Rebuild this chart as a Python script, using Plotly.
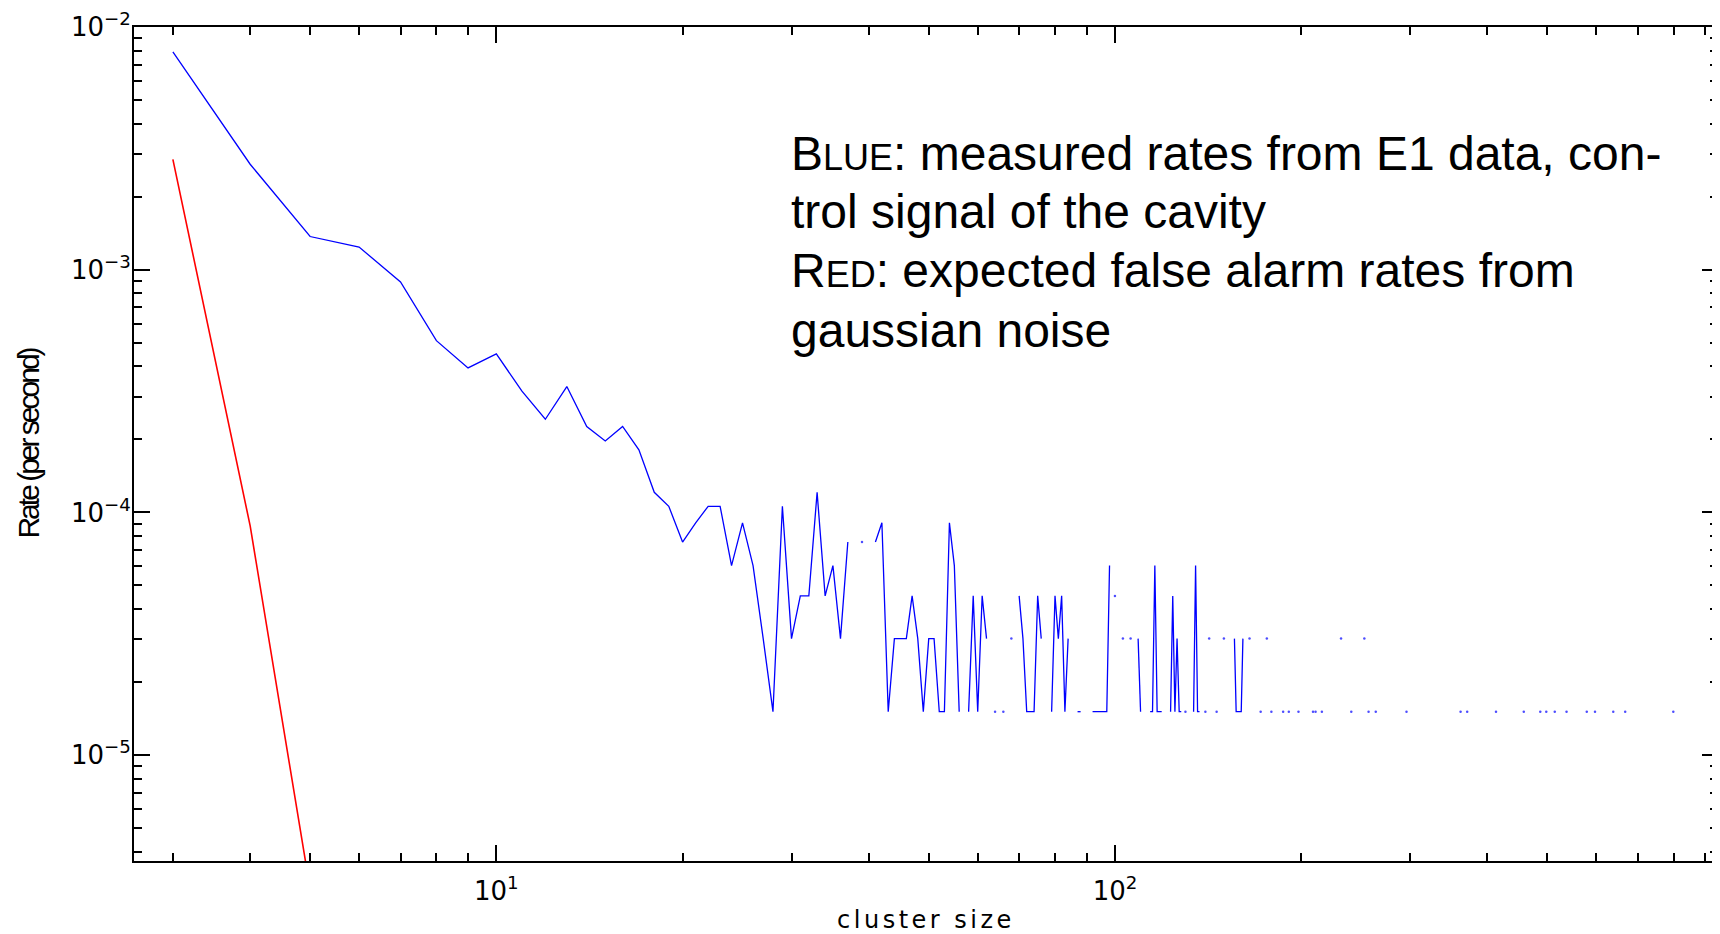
import plotly.graph_objects as go

# ---------------- data ----------------
blue_size = [3, 4, 5, 6, 7, 8, 9, 10, 11, 12, 13, 14, 15, 16, 17, 18, 19, 20,
             21, 22, 23, 24, 25, 26, 27, 28, 29, 30, 31, 32, 33, 34, 35, 36, 37,
             39, 41, 42, 43, 44, 45, 46, 47, 48, 49, 50, 51, 52, 53, 54, 55, 56,
             58, 59, 60, 61, 62, 64, 66, 68, 70, 71, 72, 73, 74, 75, 76,
             79, 80, 81, 82, 83, 84, 87, 88, 92, 93, 94, 95, 96, 97, 98,
             100, 103, 106, 109, 110, 114, 115, 116, 117, 118, 119,
             123, 124, 125, 126, 127, 128, 130, 134, 135, 136, 137, 140, 142,
             146, 150, 156, 157, 158, 159, 160, 161, 165, 172, 176, 179, 187,
             191, 198, 209, 211, 216, 232, 241, 253, 257, 264, 296, 362, 371,
             413, 458, 487, 498, 514, 537, 579, 597, 639, 668, 799]
blue_rate = [7.9e-3, 2.72e-3, 1.37e-3, 1.24e-3, 8.9e-4, 5.1e-4, 3.94e-4, 4.5e-4,
             3.16e-4, 2.42e-4, 3.3e-4, 2.26e-4, 1.97e-4, 2.26e-4, 1.81e-4,
             1.21e-4, 1.06e-4, 7.55e-5,
             9.06e-5, 1.06e-4, 1.06e-4, 6.04e-5, 9.06e-5, 6.04e-5, 3.02e-5,
             1.51e-5, 1.06e-4, 3.02e-5, 4.53e-5, 4.53e-5, 1.21e-4, 4.53e-5,
             6.04e-5, 3.02e-5, 7.55e-5,
             7.55e-5, 7.55e-5, 9.06e-5, 1.51e-5, 3.02e-5, 3.02e-5, 3.02e-5,
             4.53e-5, 3.02e-5, 1.51e-5, 3.02e-5, 3.02e-5, 1.51e-5, 1.51e-5,
             9.06e-5, 6.04e-5, 1.51e-5,
             1.51e-5, 4.53e-5, 1.51e-5, 4.53e-5, 3.02e-5, 1.51e-5, 1.51e-5,
             3.02e-5, 4.53e-5, 3.02e-5, 1.51e-5, 1.51e-5, 1.51e-5, 4.53e-5, 3.02e-5,
             1.51e-5, 4.53e-5, 3.02e-5, 4.53e-5, 1.51e-5, 3.02e-5, 1.51e-5, 1.51e-5,
             1.51e-5, 1.51e-5, 1.51e-5, 1.51e-5, 1.51e-5, 1.51e-5, 6.04e-5,
             4.53e-5, 3.02e-5, 3.02e-5, 3.02e-5, 1.51e-5, 1.51e-5, 1.51e-5,
             6.04e-5, 1.51e-5, 1.51e-5, 1.51e-5,
             1.51e-5, 4.53e-5, 1.51e-5, 3.02e-5, 1.51e-5, 1.51e-5, 1.51e-5,
             1.51e-5, 6.04e-5, 1.51e-5, 1.51e-5, 1.51e-5, 3.02e-5,
             1.51e-5, 3.02e-5, 3.02e-5, 1.51e-5, 1.51e-5, 1.51e-5, 1.51e-5,
             3.02e-5, 3.02e-5, 1.51e-5, 3.02e-5, 1.51e-5, 1.51e-5,
             1.51e-5, 1.51e-5, 1.51e-5, 1.51e-5, 1.51e-5, 3.02e-5, 1.51e-5,
             3.02e-5, 1.51e-5, 1.51e-5, 1.51e-5, 1.51e-5, 1.51e-5,
             1.51e-5, 1.51e-5, 1.51e-5, 1.51e-5, 1.51e-5, 1.51e-5, 1.51e-5,
             1.51e-5, 1.51e-5, 1.51e-5, 1.51e-5]
red_size = [3, 4, 5]
red_rate = [2.85e-3, 8.8e-5, 2.8e-6]

y_major = [1e-5, 1e-4, 1e-3, 1e-2]
y_major_text = ["10<sup>\u22125</sup>", "10<sup>\u22124</sup>",
                "10<sup>\u22123</sup>", "10<sup>\u22122</sup>"]
x_major = [10, 100]
x_major_text = ["10<sup>1</sup>", "10<sup>2</sup>"]

x_title = "cluster size"
y_title = "Rate (per second)"
note_lines = [
    "B<span style='font-size:36px'>LUE</span>: measured rates from E1 data, con-",
    "trol signal of the cavity",
    "R<span style='font-size:36px'>ED</span>: expected false alarm rates from",
    "gaussian noise",
]

# ---------------- build gapped series ----------------
bx, by, bm = [], [], []
n = len(blue_size)
for i in range(n):
    s, r = blue_size[i], blue_rate[i]
    prev_adj = i > 0 and blue_size[i - 1] == s - 1
    next_adj = i < n - 1 and blue_size[i + 1] == s + 1
    if i > 0 and not prev_adj:
        bx.append(None); by.append(None); bm.append(0)
    bx.append(s); by.append(r)
    bm.append(0 if (prev_adj or next_adj) else 2.5)

minor_x = [d * 10 ** e for e in range(0, 3) for d in range(2, 10)]
minor_y = [d * 10 ** e for e in range(-6, -2) for d in range(2, 10)]

fig = go.Figure()
fig.add_trace(go.Scatter(x=red_size, y=red_rate, mode="lines",
                         line=dict(color="#ff0000", width=1.6),
                         showlegend=False, hoverinfo="skip"))
fig.add_trace(go.Scatter(x=bx, y=by, mode="lines+markers",
                         line=dict(color="#0000ff", width=1.3),
                         marker=dict(size=bm, color="#0000ff", line=dict(width=0)),
                         connectgaps=False, showlegend=False))

# page body has an 8px margin: figure coordinates = screen coordinates - 8
OFF = 8
W, H = 1720 - OFF, 934 - OFF
L, T = 134 - OFF, 27 - OFF
R = 0
B = H - (862 - OFF)
x0_px, xd = 496.8 - OFF, 619.4    # pixel of 10^1, pixels per decade
yd = 243.0                        # pixels per decade
xr = [1 + (L - x0_px) / xd, 1 + (W - R - x0_px) / xd]
yr = [-2 - (H - B - T) / yd, -2.0]

axis_common = dict(
    type="log", showline=True, linecolor="black", linewidth=2,
    mirror="ticks", ticks="inside", ticklen=16, tickwidth=1.5, tickcolor="black",
    showgrid=False, zeroline=False, ticklabeloverflow="allow",
    tickfont=dict(family="DejaVu Sans", size=26, color="black"),
)

fig.update_xaxes(**axis_common, range=xr, tickmode="array", tickvals=x_major,
                 ticktext=x_major_text, ticklabelstandoff=6,
                 minor=dict(tickmode="array", tickvals=minor_x, ticks="inside",
                            ticklen=8, tickwidth=1.5, tickcolor="black", showgrid=False),
                 title=dict(text="<span style='letter-spacing:3.5px'>%s</span>" % x_title,
                            standoff=11,
                            font=dict(family="DejaVu Sans", size=24, color="black")))
fig.update_yaxes(**axis_common, range=yr, tickmode="array", tickvals=y_major,
                 ticktext=y_major_text, ticklabelstandoff=-4,
                 minor=dict(tickmode="array", tickvals=minor_y, ticks="inside",
                            ticklen=8, tickwidth=1.5, tickcolor="black", showgrid=False),
                 title=dict(text="<span style='letter-spacing:-3px'>%s</span>" % y_title,
                            standoff=22,
                            font=dict(family="Liberation Sans", size=30, color="black")))

baselines = [170 - OFF, 228 - OFF, 287 - OFF, 347 - OFF]
fs = 48
for txt, bl in zip(note_lines, baselines):
    yc = bl - (0.905 - 0.212) / 2 * fs
    fig.add_annotation(xref="paper", yref="paper",
                       x=(790 - OFF - L) / (W - L - R), y=1 - (yc - T) / (H - T - B),
                       xanchor="left", yanchor="middle", showarrow=False,
                       text=txt, align="left",
                       font=dict(family="Liberation Sans", size=fs, color="black"))

fig.update_layout(width=W, height=H, margin=dict(l=L, r=R, t=T, b=B, pad=0),
                  paper_bgcolor="white", plot_bgcolor="white", showlegend=False)

fig.write_html("out.html")
